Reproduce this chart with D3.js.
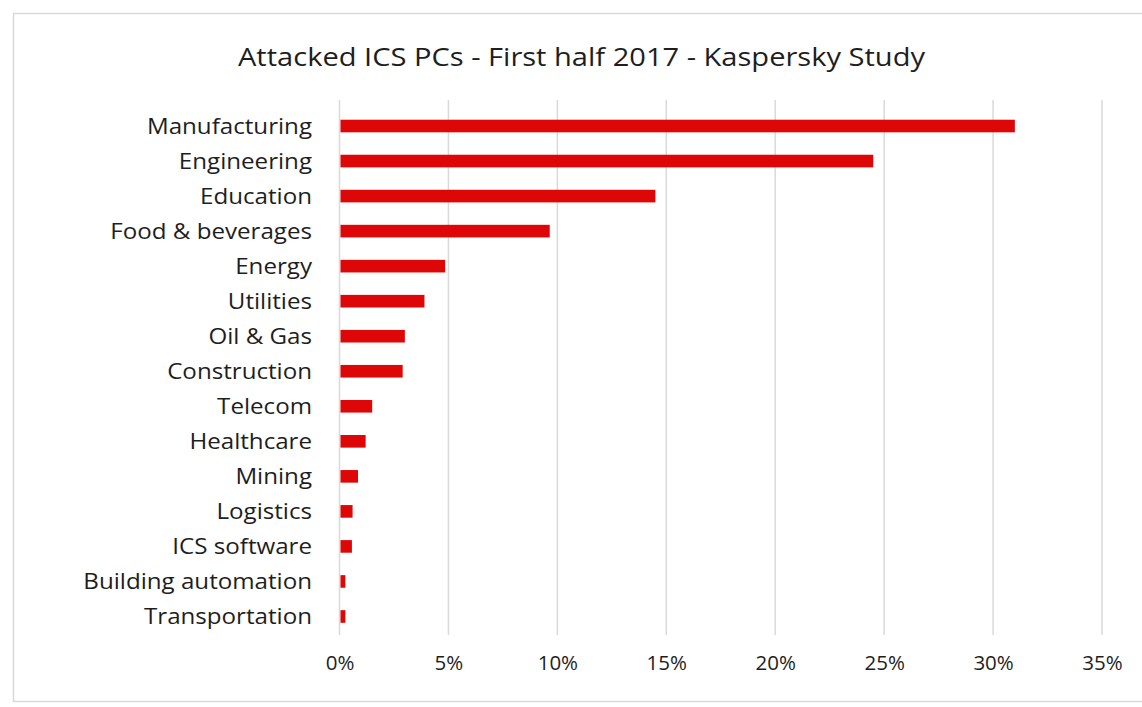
<!DOCTYPE html>
<html>
<head>
<meta charset="utf-8">
<script src="https://cdn.jsdelivr.net/npm/d3@7"></script>
<style>
  html, body { margin: 0; padding: 0; background: #fff; }
  svg { display: block; }
  text { font-family: "Open Sans", Lato, sans-serif; fill: #1e1e1e; }
</style>
</head>
<body>
<svg id="chart" width="1142" height="707"></svg>
<script>
// Share of attacked ICS computers by industry, H1 2017
const sectors = [
  "Manufacturing", "Engineering", "Education", "Food & beverages", "Energy",
  "Utilities", "Oil & Gas", "Construction", "Telecom", "Healthcare",
  "Mining", "Logistics", "ICS software", "Building automation", "Transportation"
];
const shares = [31.0, 24.5, 14.5, 9.65, 4.85, 3.9, 3.0, 2.9, 1.5, 1.2, 0.85, 0.6, 0.57, 0.27, 0.27];
const tickValues = [0, 5, 10, 15, 20, 25, 30, 35];
const chartTitle = "Attacked ICS PCs - First half 2017 - Kaspersky Study";

const svg = d3.select("#chart");

// outer chart frame
svg.append("rect")
  .attr("x", 13.5).attr("y", 13.5)
  .attr("width", 1142).attr("height", 688)
  .attr("fill", "none").attr("stroke", "#d9d9d9").attr("stroke-width", 1.5);

const x = d3.scaleLinear().domain([0, 35]).range([339.5, 1102]);
const y = d3.scaleBand().domain(sectors).range([108.5, 634]).paddingInner(0.64).paddingOuter(0.32);

// vertical gridlines
svg.append("g").selectAll("line").data(tickValues).join("line")
  .attr("x1", d => x(d)).attr("x2", d => x(d))
  .attr("y1", 100).attr("y2", 635)
  .attr("stroke", "#d9d9d9").attr("stroke-width", 1.5);

// bars
svg.append("g").selectAll("rect").data(sectors).join("rect")
  .attr("x", x(0) + 1)
  .attr("y", d => y(d))
  .attr("width", (d, i) => x(shares[i]) - x(0) - 1)
  .attr("height", y.bandwidth())
  .attr("fill", "#dd0707");

// category axis labels
const yAxis = d3.axisLeft(y).tickSize(0).tickPadding(0);
const gy = svg.append("g").attr("transform", "translate(312,1)").call(yAxis);
gy.select(".domain").remove();
gy.selectAll("text")
  .attr("font-size", 21)
  .attr("font-family", "'Open Sans', Lato, sans-serif")
  .attr("fill", "#1e1e1e")
  .attr("transform", "scale(1.15,1)");

// value axis labels
const xAxis = d3.axisBottom(x).tickValues(tickValues).tickFormat(d => d + "%").tickSize(0).tickPadding(0);
const gx = svg.append("g").attr("transform", "translate(0,655)").call(xAxis);
gx.select(".domain").remove();
gx.selectAll("text")
  .attr("font-size", 20.5)
  .attr("font-family", "'Open Sans', Lato, sans-serif")
  .attr("fill", "#1e1e1e");

// title
svg.append("text")
  .attr("x", 581.5).attr("y", 66)
  .attr("text-anchor", "middle")
  .attr("font-size", 25)
  .attr("textLength", 687)
  .attr("lengthAdjust", "spacingAndGlyphs")
  .text(chartTitle);
</script>
</body>
</html>
